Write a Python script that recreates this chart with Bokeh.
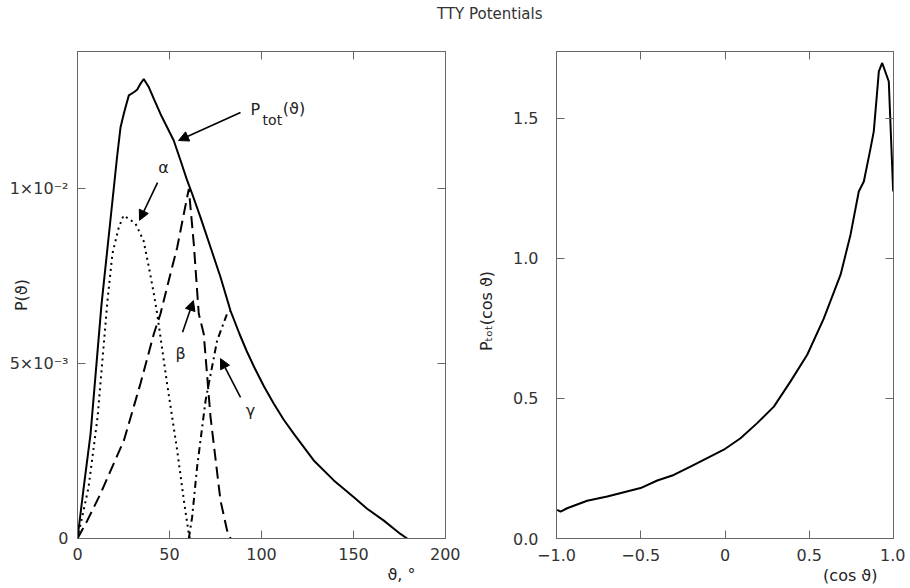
from bokeh.plotting import figure
from bokeh.models import (FixedTicker, Label, Arrow, NormalHead, LinearAxis, Div, Range1d, Title)
from bokeh.layouts import row, column
from bokeh.embed import file_html
from bokeh.resources import INLINE

# ---------------- data ----------------
theta_tot = [0, 3.4, 7.1, 13.0, 17.9, 21.5, 23.4, 25.0, 26.1, 27.9, 30.6, 32.4, 34.2, 36.0,
             38.8, 41.5, 45.1, 48.7, 52.3, 56.0, 59.6, 62.3, 66.8, 72.3, 77.7, 83.2, 88.0,
             92.0, 96.0, 101.3, 106.7, 112.0, 117.6, 128.4, 139.3, 150.2, 157.4, 166.5,
             175.5, 179.2]
p_tot = [0, 1.47e-3, 2.99e-3, 6.66e-3, 9.1e-3, 10.9e-3, 11.75e-3, 12.1e-3, 12.32e-3,
         12.66e-3, 12.75e-3, 12.82e-3, 12.99e-3, 13.13e-3, 12.89e-3, 12.56e-3, 12.13e-3,
         11.75e-3, 11.37e-3, 10.8e-3, 10.23e-3, 9.85e-3, 9.18e-3, 8.32e-3, 7.47e-3, 6.5e-3,
         5.85e-3, 5.35e-3, 4.9e-3, 4.35e-3, 3.85e-3, 3.4e-3, 2.99e-3, 2.23e-3, 1.66e-3,
         1.18e-3, 0.85e-3, 0.51e-3, 0.13e-3, 0]

theta_alpha = [0, 6.0, 10.9, 16.3, 19.0, 22.3, 25.0, 27.7, 31.5, 35.9, 38.8, 41.5, 43.3,
               48.7, 54.2, 57.8, 60.5, 61.0]
p_alpha = [0, 1.46e-3, 3.46e-3, 6.8e-3, 8.14e-3, 8.86e-3, 9.23e-3, 9.14e-3, 9.0e-3, 8.51e-3,
           7.75e-3, 6.99e-3, 6.42e-3, 4.42e-3, 2.51e-3, 1.09e-3, 0.13e-3, 0]

theta_beta = [0, 5.3, 12.5, 25.2, 34.2, 41.5, 45.1, 50.5, 54.2, 57.8, 60.5, 63.2, 65.9,
              68.6, 72.3, 77.7, 81.3, 83.2]
p_beta = [0, 0.51e-3, 1.28e-3, 2.8e-3, 4.42e-3, 5.85e-3, 6.42e-3, 7.56e-3, 8.32e-3, 9.28e-3,
          9.99e-3, 8.42e-3, 6.42e-3, 5.85e-3, 3.47e-3, 1.09e-3, 0.23e-3, 0]

theta_gamma = [60.5, 62.3, 65.0, 69.6, 75.9, 81.3, 83.2]
p_gamma = [0, 0.61e-3, 2.04e-3, 3.94e-3, 5.66e-3, 6.42e-3, 6.5e-3]

cos_theta = [-0.996, -0.976, -0.937, -0.818, -0.699, -0.501, -0.402, -0.304, -0.205, -0.106,
             -0.007, 0.092, 0.191, 0.290, 0.389, 0.488, 0.586, 0.686, 0.745, 0.794, 0.824,
             0.864, 0.883, 0.903, 0.913, 0.933, 0.972, 0.998]
p_cos = [0.102, 0.096, 0.108, 0.135, 0.15, 0.18, 0.207, 0.227, 0.257, 0.287, 0.317, 0.358,
         0.412, 0.471, 0.561, 0.656, 0.785, 0.942, 1.085, 1.239, 1.275, 1.394, 1.454, 1.596,
         1.668, 1.698, 1.632, 1.239]

left_xticks = [0, 50, 100, 150, 200]
left_yticks = [0, 0.005, 0.01]
left_ylabels = {0: "0", 0.005: "5×10⁻³", 0.01: "1×10⁻²"}
right_xticks = [-1, -0.5, 0, 0.5, 1]
right_xlabels = {-1: "−1.0", -0.5: "−0.5", 0: "0", 0.5: "0.5", 1: "1.0"}
right_yticks = [0, 0.5, 1.0, 1.5]
right_ylabels = {0: "0.0", 0.5: "0.5", 1.0: "1.0", 1.5: "1.5"}

FONT = "DejaVu Sans"
AXC = "#666666"
TXC = "#333333"


def style_axes(p, xt, yt, xlab=None, ylab=None, xstand=10, ystand=10):
    p.xgrid.visible = False
    p.ygrid.visible = False
    p.outline_line_color = AXC
    p.background_fill_color = "white"
    p.border_fill_color = "white"
    for ax in p.xaxis + p.yaxis:
        ax.major_tick_in = 8
        ax.major_tick_out = 0
        ax.minor_tick_line_color = None
        ax.axis_line_color = AXC
        ax.major_tick_line_color = AXC
        ax.major_label_text_font = FONT
        ax.major_label_text_font_size = "16px"
        ax.major_label_text_color = TXC
        ax.axis_label_text_font = FONT
        ax.axis_label_text_font_size = "16px"
        ax.axis_label_text_font_style = "normal"
        ax.axis_label_text_color = "#222222"
    p.xaxis.ticker = FixedTicker(ticks=xt)
    p.yaxis.ticker = FixedTicker(ticks=yt)
    p.xaxis.major_label_standoff = xstand
    p.yaxis.major_label_standoff = ystand
    if xlab:
        p.xaxis.major_label_overrides = xlab
    if ylab:
        p.yaxis.major_label_overrides = ylab
    # mirrored tick marks (no labels)
    for loc, t in (("right", yt), ("above", xt)):
        ax = LinearAxis(ticker=FixedTicker(ticks=t), major_tick_in=8, major_tick_out=0,
                        minor_tick_line_color=None, axis_line_color=AXC,
                        major_tick_line_color=AXC, major_label_text_font_size="0px",
                        major_label_text_color=None, major_label_standoff=0)
        p.add_layout(ax, loc)


def lbl(p, x, y, text, size="16px", align="center", baseline="middle", angle=0):
    p.add_layout(Label(x=x, y=y, text=text, text_font=FONT, text_font_size=size,
                       text_color="#222222", text_align=align, text_baseline=baseline,
                       angle=angle))


def arrow(p, x0, y0, x1, y1):
    p.add_layout(Arrow(end=NormalHead(size=10, fill_color="black", line_color="black",
                                      line_width=1),
                       x_start=x0, y_start=y0, x_end=x1, y_end=y1,
                       line_width=1.6, line_color="black"))


def xtitle(p, text, offset):
    p.add_layout(Title(text=text, align="right", offset=offset, text_font=FONT,
                       text_font_size="16px", text_font_style="normal",
                       text_color="#222222", standoff=0), "below")


# ---------------- left panel ----------------
p1 = figure(frame_width=368, frame_height=487, x_range=Range1d(0, 200),
            y_range=Range1d(0, 0.013914), output_backend="svg", toolbar_location=None,
            min_border_left=77, min_border_right=15, min_border_top=18, min_border_bottom=45)
style_axes(p1, left_xticks, left_yticks, None, left_ylabels, xstand=9, ystand=9)
p1.left[0].axis_label = "P(ϑ)"
p1.left[0].axis_label_standoff = -24
xtitle(p1, "ϑ, °", 30)

p1.line(theta_tot, p_tot, line_color="black", line_width=2)
p1.line(theta_alpha, p_alpha, line_color="black", line_width=2, line_dash="2 4")
p1.line(theta_beta, p_beta, line_color="black", line_width=2, line_dash="12 6")
p1.line(theta_gamma, p_gamma, line_color="black", line_width=2, line_dash="7 4 2 4")

# annotations
lbl(p1, 94.0, 12.26e-3, "P", align="left")
lbl(p1, 100.6, 11.97e-3, "tot", size="14px", align="left")
lbl(p1, 111.6, 12.29e-3, "(ϑ)", align="left")
arrow(p1, 88.6, 12.17e-3, 54.9, 11.37e-3)
lbl(p1, 46.7, 10.6e-3, "α")
arrow(p1, 43.5, 10.17e-3, 33.7, 9.09e-3)
lbl(p1, 56.0, 5.29e-3, "β")
arrow(p1, 57.1, 5.89e-3, 63.0, 6.8e-3)
lbl(p1, 94.0, 3.66e-3, "γ")
arrow(p1, 88.6, 4.03e-3, 77.7, 5.14e-3)

# ---------------- right panel ----------------
p2 = figure(frame_width=337, frame_height=487, x_range=Range1d(-1, 1),
            y_range=Range1d(0, 1.739), output_backend="svg", toolbar_location=None,
            min_border_left=96, min_border_right=12, min_border_top=18, min_border_bottom=45)
style_axes(p2, right_xticks, right_yticks, right_xlabels, right_ylabels, xstand=10, ystand=18)
p2.left[0].axis_label = "Pₜₒₜ(cos ϑ)\u2003\u2003"
p2.left[0].axis_label_standoff = 14
xtitle(p2, "(cos ϑ)", 16)

p2.line(cos_theta, p_cos, line_color="black", line_width=2)

title = Div(text="TTY Potentials", width=905, height=33, margin=(0, 0, 0, 0),
            styles={"font-family": "DejaVu Sans", "font-size": "15px", "color": "#333333",
                    "line-height": "28px", "text-indent": "437px"})

layout = column(title, row(p1, p2, spacing=0), spacing=0)

open("out.html", "w").write(file_html(layout, INLINE))
